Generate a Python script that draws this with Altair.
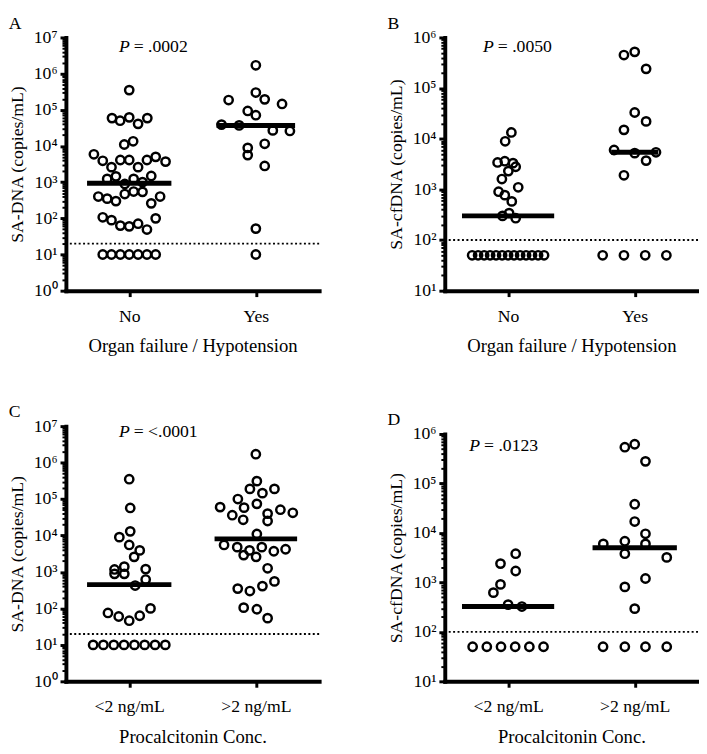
import altair as alt
import pandas as pd

FONT = "Liberation Serif"

# ---------------- Panel A : SA-DNA vs organ failure / hypotension
A_cats = ["No", "Yes"]
A_no_vals = [350000,
             59000, 50000, 62000, 41000, 59000,
             11000, 13500,
             5900, 3900, 2600, 4100, 4100, 2600, 4100, 5000, 3700,
             1230, 1450, 890, 1230, 1000, 1480,
             400, 350, 300, 470, 550, 540, 260, 400,
             107, 89, 63, 60, 71, 49, 100,
             10, 10, 10, 10, 10, 10, 10]
A_no_off = [0,
            -0.136, -0.072, 0, 0.07, 0.143,
            -0.039, 0.031,
            -0.279, -0.209, -0.14, -0.07, 0, 0.07, 0.14, 0.209, 0.287,
            -0.174, -0.105, -0.035, 0.035, 0.105, 0.174,
            -0.244, -0.174, -0.105, -0.035, 0.035, 0.105, 0.174, 0.244,
            -0.209, -0.14, -0.07, 0, 0.07, 0.14, 0.209,
            -0.209, -0.14, -0.07, 0, 0.07, 0.14, 0.209]
A_yes_vals = [1700000, 300000, 186000, 195000, 145000, 93000, 71000, 39000,
              37000, 27000, 26000, 11500, 8900, 5600, 2800, 52, 10]
A_yes_off = [0, 0, -0.215, 0.07, 0.207, -0.064, 0, -0.271,
             -0.132, 0.134, 0.269, 0.07, -0.064, -0.064, 0.07, 0, 0]
A_median = [930, 37000]
A_half = [0.333, 0.31]
A_threshold = 20

# ---------------- Panel B : SA-cfDNA vs organ failure / hypotension
B_cats = ["No", "Yes"]
B_no_vals = [13300, 8900, 3400, 3600, 3300, 2800, 2300, 1600, 1100, 900, 770, 580,
             300, 340, 270,
             50, 50, 50, 50, 50, 50, 50, 50, 50, 50, 50, 50, 50]
B_no_off = [0.026, -0.023, -0.083, -0.026, 0.039, 0.06, 0.002, -0.049, 0.08, -0.075,
            -0.026, 0.029, -0.044, 0.008, 0.06,
            -0.284, -0.237, -0.189, -0.142, -0.095, -0.047, 0, 0.047, 0.095, 0.142,
            0.189, 0.237, 0.284]
B_yes_vals = [450000, 520000, 240000, 33000, 22000, 15000, 6000, 5200, 5400, 3700, 1900,
              50, 50, 50, 50]
B_yes_off = [-0.085, 0, 0.09, 0, 0.09, -0.085, -0.163, 0, 0.168, 0.09, -0.085,
             -0.253, -0.085, 0.083, 0.25]
B_median = [300, 5400]
B_half = [0.364, 0.186]
B_threshold = 100

# ---------------- Panel C : SA-DNA vs procalcitonin
C_cats = ["<2 ng/mL", ">2 ng/mL"]
C_lo_vals = [350000, 57000, 13000, 9000, 5500, 3900, 2600, 1170, 1400, 1200, 890, 890,
             620, 425, 75, 60, 46, 63, 100,
             10, 10, 10, 10, 10, 10, 10, 10]
C_lo_off = [0, 0.008, 0.008, -0.078, 0, 0.083, 0.039, -0.116, -0.039, 0.13, -0.116, -0.039,
            0.13, 0.047, -0.168, -0.083, 0, 0.083, 0.168,
            -0.285, -0.204, -0.122, -0.041, 0.041, 0.122, 0.204, 0.285]
C_hi_vals = [1700000, 310000, 190000, 145000, 190000, 100000, 74000, 58000, 60000, 36000,
             27000, 40000, 25000, 51000, 42000, 11000, 5500, 4800, 2900, 3900, 2600, 4800,
             3700, 4200, 1260, 350, 300, 410, 550, 105, 95, 54]
C_hi_off = [0, 0.008, -0.047, 0.052, 0.147, -0.142, 0.008, -0.093, -0.282, -0.186,
            -0.1, 0.093, 0.093, 0.194, 0.292, 0.008, -0.251, -0.147, -0.096, -0.05, 0.002, 0.047,
            0.142, 0.235, 0.093, -0.143, -0.047, 0.052, 0.147, -0.096, 0.008, 0.093]
C_median = [450, 8100]
C_half = [0.333, 0.326]
C_threshold = 20

# ---------------- Panel D : SA-cfDNA vs procalcitonin
D_cats = ["<2 ng/mL", ">2 ng/mL"]
D_lo_vals = [3800, 2400, 1700, 910, 620, 355, 325, 50, 50, 50, 50, 50, 50]
D_lo_off = [0.06, -0.06, 0.06, -0.06, -0.116, 0, 0.109, -0.28, -0.168, -0.056, 0.056, 0.168, 0.28]
D_hi_vals = [540000, 620000, 280000, 38000, 17000, 9600, 6000, 6800, 6000, 3800, 3200, 1200,
             810, 295, 50, 50, 50, 50]
D_hi_off = [-0.078, 0, 0.085, 0, 0, 0.085, -0.248, -0.078, 0.085, -0.078, 0.253, 0.085,
            -0.078, 0, -0.25, -0.078, 0.085, 0.253]
D_median = [325, 5000]
D_half = [0.364, 0.333]
D_threshold = 100

W = 258
SUP = "⁰¹²³⁴⁵⁶⁷⁸⁹"
LOGK = "log(datum.value)/LN10"
IS_DEC = f"abs({LOGK} - round({LOGK})) < 0.001"


def y_axis(lo, hi, title):
    vals = [m * 10 ** k for k in range(lo, hi) for m in range(1, 10)] + [10 ** hi]
    return alt.Axis(
        values=vals, title=title, grid=False, labelOverlap=False,
        labelExpr=f"({IS_DEC}) ? '10' + substring('{SUP}', round({LOGK}), round({LOGK}) + 1) : ''",
        tickSize={"condition": {"test": IS_DEC, "value": 6}, "value": 4},
        tickWidth={"condition": {"test": IS_DEC, "value": 3}, "value": 2},
        labelPadding=3, titlePadding=7,
        labelFont=FONT, titleFont=FONT, labelFontSize=18, titleFontSize=18,
    )


def x_axis(cats, title):
    return alt.Axis(
        values=[1, 2], title=title, grid=False,
        labelExpr=f"datum.value == 1 ? '{cats[0]}' : '{cats[1]}'",
        tickSize=6, tickWidth=3, labelPadding=11, titlePadding=12,
        labelFont=FONT, titleFont=FONT, labelFontSize=18, titleFontSize=19,
    )


def panel(letter, cats, vals, offs, medians, halves, thr, lo, hi, ytitle, xtitle,
          ptext, px, py, height, ytop=0):
    rows = []
    for g, (vs, os_) in enumerate(zip(vals, offs), start=1):
        for v, o in zip(vs, os_):
            rows.append({"x": g + o, "v": v})
    pts = pd.DataFrame(rows)
    med = pd.DataFrame({
        "x1": [g - h for g, h in zip([1, 2], halves)],
        "x2": [g + h for g, h in zip([1, 2], halves)],
        "m": medians,
    })
    if ytop:
        ysc = alt.Scale(type="log", domain=[10 ** lo, 10 ** hi], nice=False, range=[height, ytop])
    else:
        ysc = alt.Scale(type="log", domain=[10 ** lo, 10 ** hi], nice=False)
    xsc = alt.Scale(domain=[0.5, 2.5], nice=False, zero=False)
    yax = y_axis(lo, hi, ytitle)
    xax = x_axis(cats, xtitle)

    thr_l = alt.Chart(pd.DataFrame({"t": [thr]})).mark_rule(
        color="black", strokeWidth=2, strokeDash=[2, 2.5]
    ).encode(y=alt.Y("t:Q", scale=ysc, axis=yax))
    pts_l = alt.Chart(pts).mark_point(
        shape="circle", filled=False, size=72, strokeWidth=2.5, color="black", opacity=1
    ).encode(
        x=alt.X("x:Q", scale=xsc, axis=xax),
        y=alt.Y("v:Q", scale=ysc, axis=yax),
    )
    med_l = alt.Chart(med).mark_rule(color="black", strokeWidth=5).encode(
        x=alt.X("x1:Q", scale=xsc, axis=xax),
        x2="x2:Q",
        y=alt.Y("m:Q", scale=ysc, axis=yax),
    )
    p1 = alt.Chart(pd.DataFrame({"t": ["P"]})).mark_text(
        font=FONT, fontSize=18, fontStyle="italic", align="left", baseline="middle", color="black"
    ).encode(x=alt.value(px), y=alt.value(py + ytop), text="t:N")
    p2 = alt.Chart(pd.DataFrame({"t": [ptext]})).mark_text(
        font=FONT, fontSize=18, align="left", baseline="middle", color="black"
    ).encode(x=alt.value(px + 15), y=alt.value(py + ytop), text="t:N")

    return alt.layer(thr_l, pts_l, med_l, p1, p2).properties(
        width=W, height=height, title=alt.TitleParams(text=letter, offset=-4)
    )


A = panel("A", A_cats, [A_no_vals, A_yes_vals], [A_no_off, A_yes_off], A_median, A_half,
          A_threshold, 0, 7, "SA-DNA (copies/mL)", "Organ failure / Hypotension",
          "= .0002", 54, 10, 258)
B = panel("B", B_cats, [B_no_vals, B_yes_vals], [B_no_off, B_yes_off], B_median, B_half,
          B_threshold, 1, 6, "SA-cfDNA (copies/mL)", "Organ failure / Hypotension",
          "= .0050", 39, 10, 258)
C = panel("C", C_cats, [C_lo_vals, C_hi_vals], [C_lo_off, C_hi_off], C_median, C_half,
          C_threshold, 0, 7, "SA-DNA (copies/mL)", "Procalcitonin Conc.",
          "= <.0001", 54, 6, 260)
D = panel("D", D_cats, [D_lo_vals, D_hi_vals], [D_lo_off, D_hi_off], D_median, D_half,
          D_threshold, 1, 6, "SA-cfDNA (copies/mL)", "Procalcitonin Conc.",
          "= .0123", 25, 12, 260, ytop=8)

chart = alt.vconcat(
    alt.hconcat(A, B, spacing=68),
    alt.hconcat(C, D, spacing=68),
    spacing=49,
).properties(
    padding=0, background="white"
).configure_view(stroke=None).configure_axis(
    domainColor="black", domainWidth=4, domainCap="square", tickColor="black",
    labelColor="black", titleColor="black", titleFontWeight="normal",
).configure_title(
    font=FONT, fontSize=18, fontWeight="normal", anchor="start", color="black"
)

chart.save("out.html", embed_options={"renderer": "svg", "actions": False})
